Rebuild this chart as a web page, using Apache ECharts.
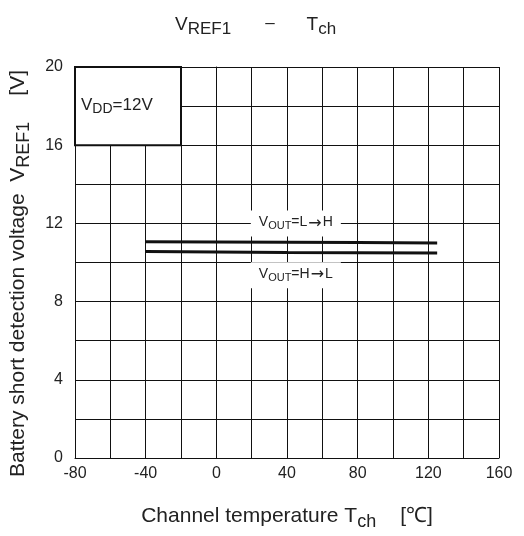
<!DOCTYPE html>
<html>
<head>
<meta charset="utf-8">
<script src="https://cdn.jsdelivr.net/npm/echarts@6/dist/echarts.min.js"></script>
<style>html,body{margin:0;padding:0;background:#fff;}#c{width:524px;height:536px;}</style>
</head>
<body>
<div id="c"></div>
<script>
// Data
var temps = [-40, 0, 40, 80, 125];
var vrefLH = [11.06, 11.05, 11.04, 11.02, 11.00];   // VOUT = L->H
var vrefHL = [10.56, 10.54, 10.51, 10.50, 10.49];   // VOUT = H->L
var xTicks = [-80, -40, 0, 40, 80, 120, 160];
var yTicks = [0, 4, 8, 12, 16, 20];

var FONT = '"Liberation Sans", Arial, sans-serif';
var C = '#222';
function pairs(xs, ys) { return xs.map(function (x, i) { return [x, ys[i]]; }); }
function richSet(main, sub, drop) {
  return {
    v: { fontFamily: FONT, fontSize: main, lineHeight: main + 2, color: C, verticalAlign: 'top', fontWeight: 'normal' },
    s: { fontFamily: FONT, fontSize: sub, lineHeight: sub + 2, color: C, verticalAlign: 'top', fontWeight: 'normal', padding: [drop, 0, 0, 0] },
    a: { fontFamily: '"DejaVu Sans", sans-serif', fontSize: main + 2, lineHeight: main + 2, color: C, verticalAlign: 'top', padding: [0, 1, 0, 1] }
  };
}

var chart = echarts.init(document.getElementById('c'), null, { renderer: 'canvas' });
var titleRich = richSet(19, 17, 6);
titleRich.d = { fontFamily: FONT, fontSize: 17, lineHeight: 21, color: C, verticalAlign: 'top', fontWeight: 'normal', padding: [0, 32, 0, 34] };
var xRich = richSet(21, 18, 7);
xRich.b = { fontFamily: FONT, fontSize: 21, lineHeight: 23, color: C, verticalAlign: 'top', padding: [0, 0, 0, 24] };
var yRich = richSet(21, 18, 7);
yRich.b = { fontFamily: FONT, fontSize: 21, lineHeight: 23, color: C, verticalAlign: 'top', padding: [0, 0, 0, 26] };

chart.setOption({
  backgroundColor: '#fff',
  animation: false,
  title: {
    text: '{v|V}{s|REF1}{d|–}{v|T}{s|ch}',
    left: 170, top: 10,
    textStyle: { fontWeight: 'normal', rich: titleRich }
  },
  grid: { left: 75, right: 25, top: 67, bottom: 75 },
  xAxis: {
    type: 'value', min: xTicks[0], max: xTicks[xTicks.length - 1], interval: 40,
    axisLine: { show: true, lineStyle: { color: '#111', width: 1 } },
    axisTick: { show: false },
    axisLabel: { fontFamily: FONT, fontSize: 16, color: C, margin: 8 },
    splitLine: { show: true, lineStyle: { color: '#111', width: 1 } },
    minorTick: { show: false, splitNumber: 2 },
    minorSplitLine: { show: true, lineStyle: { color: '#111', width: 1 } },
    name: '{v|Channel temperature T}{s|ch}{b|[℃]}',
    nameLocation: 'middle', nameGap: 48,
    nameTextStyle: { rich: xRich }
  },
  yAxis: {
    type: 'value', min: yTicks[0], max: yTicks[yTicks.length - 1], interval: 4,
    axisLine: { show: true, lineStyle: { color: '#111', width: 1 } },
    axisTick: { show: false },
    axisLabel: { fontFamily: FONT, fontSize: 16, color: C, margin: 12 },
    splitLine: { show: true, lineStyle: { color: '#111', width: 1 } },
    minorTick: { show: false, splitNumber: 2 },
    minorSplitLine: { show: true, lineStyle: { color: '#111', width: 1 } },
    name: '{v|Battery short detection voltage  V}{s|REF1}{b|[V]}',
    nameLocation: 'middle', nameGap: 44, nameRotate: 90,
    nameTextStyle: { padding: [0, 22, 0, 0], rich: yRich }
  },
  series: [
    {
      type: 'line', name: 'L→H', data: pairs(temps, vrefLH), symbol: 'none',
      lineStyle: { color: '#111', width: 3 }, z: 5,
      markArea: {
        silent: true,
        itemStyle: { color: '#fff', borderColor: '#111', borderWidth: 2 },
        label: {
          show: true, position: 'insideLeft', distance: 7,
          formatter: '{v|V}{s|DD}{v|=12V}',
          rich: richSet(17, 14, 6)
        },
        data: [[{ coord: [-80, 16] }, { coord: [-20, 20] }]]
      },
      markPoint: {
        silent: true, symbol: 'rect', symbolSize: 0,
        label: {
          show: true, position: 'inside', backgroundColor: '#fff', padding: [5, 8, 5, 8],
          rich: richSet(14, 11, 5)
        },
        data: [
          { coord: [45, 12], label: { formatter: '{v|V}{s|OUT}{v|=L}{a|→}{v|H}' } },
          { coord: [45, 9.35], label: { formatter: '{v|V}{s|OUT}{v|=H}{a|→}{v|L}' } }
        ]
      }
    },
    {
      type: 'line', name: 'H→L', data: pairs(temps, vrefHL), symbol: 'none',
      lineStyle: { color: '#111', width: 3 }, z: 5
    }
  ]
});
</script>
</body>
</html>
